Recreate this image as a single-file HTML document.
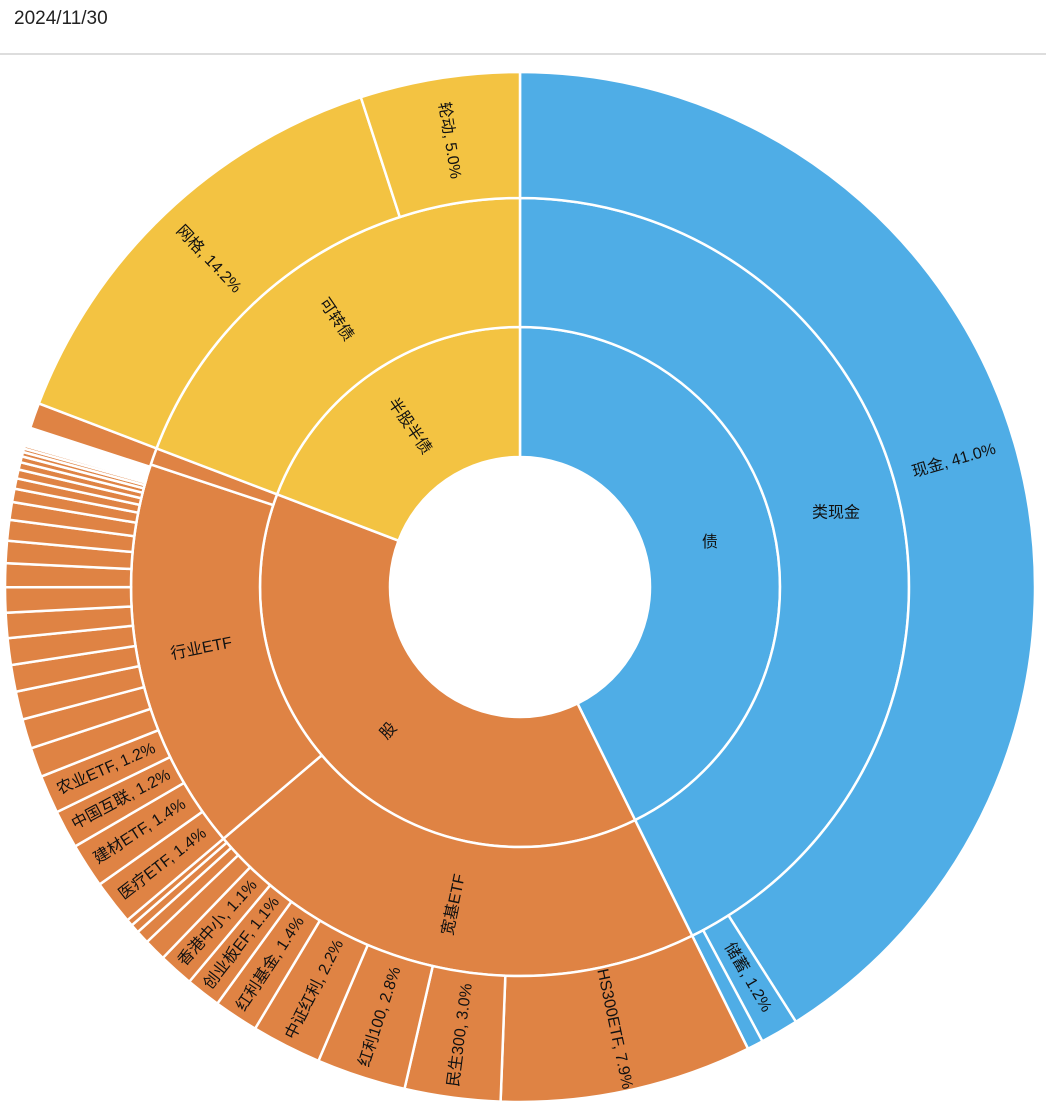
<!DOCTYPE html>
<html><head><meta charset="utf-8">
<style>
body{margin:0;background:#fff;width:1046px;height:1106px;overflow:hidden;font-family:"Liberation Sans","Noto Sans CJK SC",sans-serif;}
#t{position:absolute;left:14px;top:8px;font-size:19px;color:#222;}
#ln{position:absolute;left:0;top:53px;width:1046px;height:2px;background:#ddd;}
svg{position:absolute;left:0;top:0;}
</style></head><body>
<div id="t">2024/11/30</div><div id="ln"></div>
<svg id="s" width="1046" height="1106" font-family="Liberation Sans, Noto Sans CJK SC, sans-serif" font-size="16"></svg>
<script>
const B='#4FADE6',O='#DF8344',Y='#F3C342';
const cx=520,cy=587,R=[130,260,389,515];
const s=document.getElementById('s');let h='';
function pt(r,p){const a=p*3.6*Math.PI/180;return [cx+r*Math.sin(a),cy-r*Math.cos(a)];}
function arc(r0,r1,p0,p1,c,label){
 const l=(p1-p0)>50?1:0;const a=pt(r1,p0),b=pt(r1,p1),c2=pt(r0,p1),d=pt(r0,p0);
 h+=`<path d="M${a}A${r1},${r1} 0 ${l} 1 ${b}L${c2}A${r0},${r0} 0 ${l} 0 ${d}Z" fill="${c}" stroke="#fff" stroke-width="2.5"/>`;
 if(label){const m=(p0+p1)/2,th=m*3.6;const q=pt((r0+r1)/2,m);let rot=label[1]!==undefined?label[1]:(th<180?th-90:th-270);
  h+=`<text x="${q[0]}" y="${q[1]}" transform="rotate(${rot} ${q[0]} ${q[1]})" text-anchor="middle" dominant-baseline="central" fill="#111">${label[0]}</text>`;}
}
arc(R[0],R[1],0,42.7,B,['债',0]);arc(R[0],R[1],42.7,80.8,O,['股']);arc(R[0],R[1],80.8,100,Y,['半股半债']);
arc(R[1],R[2],0,42.7,B,['类现金',0]);arc(R[1],R[2],42.7,63.8,O,['宽基ETF']);arc(R[1],R[2],63.8,80.1,O,['行业ETF',-11]);
arc(R[1],R[2],80.1,80.8,O);arc(R[1],R[2],80.8,100,Y,['可转债']);
let p=0;function seg(v,c,lab){arc(R[2],R[3],p,p+v,c,lab?[lab]:null);p+=v;}
seg(41.0,B,'现金, 41.0%');seg(1.2,B,'储蓄, 1.2%');seg(0.5,B);
[['HS300ETF, 7.9%',7.9],['民生300, 3.0%',3.0],['红利100, 2.8%',2.8],['中证红利, 2.2%',2.2],['红利基金, 1.4%',1.4],['创业板EF, 1.1%',1.1],['香港中小, 1.1%',1.1]].forEach(x=>seg(x[1],O,x[0]));
let rem=63.8-p;[0.5,0.3,0.2,0.15].forEach(v=>seg(v*rem/1.15,O));
[['医疗ETF, 1.4%',1.4],['建材ETF, 1.4%',1.4],['中国互联, 1.2%',1.2],['农业ETF, 1.2%',1.2]].forEach(x=>seg(x[1],O,x[0]));
let sm=[1.0,1.0,0.95,0.9,0.9,0.85,0.85,0.8,0.75,0.7,0.6,0.45,0.35,0.3,0.25,0.2,0.15,0.12,0.1,0.08];
let tot=sm.reduce((a,b)=>a+b,0);let avail=80.1-p-0.6;sm.forEach(v=>seg(v*avail/tot,O));
p=80.0;seg(0.8,O);p=80.8;
seg(14.2,Y,'网格, 14.2%');seg(5.0,Y,'轮动, 5.0%');
s.innerHTML=h;
</script>
</body></html>
